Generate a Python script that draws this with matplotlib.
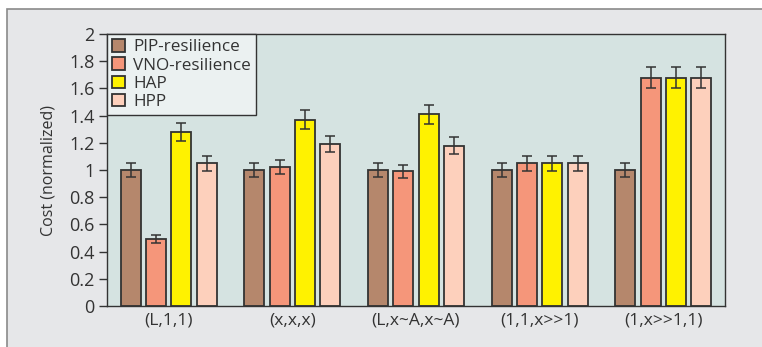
import numpy as np
import matplotlib.pyplot as plt
from matplotlib.patches import Rectangle

groups = ['(L,1,1)', '(x,x,x)', '(L,x~A,x~A)', '(1,1,x>>1)', '(1,x>>1,1)']
series = ['PIP-resilience', 'VNO-resilience', 'HAP', 'HPP']
pip = [1.0, 1.0, 1.0, 1.0, 1.0]
vno = [0.49, 1.02, 0.99, 1.05, 1.68]
hap = [1.28, 1.37, 1.41, 1.05, 1.68]
hpp = [1.05, 1.19, 1.18, 1.05, 1.68]
pip_err = [0.05, 0.05, 0.05, 0.05, 0.05]
vno_err = [0.03, 0.05, 0.05, 0.055, 0.08]
hap_err = [0.065, 0.07, 0.07, 0.055, 0.08]
hpp_err = [0.055, 0.06, 0.06, 0.055, 0.08]

colors = ['#b5876c', '#f5967a', '#fff200', '#fdd0bc']
plt.rcParams['font.family'] = ['Open Sans', 'DejaVu Sans']

fig = plt.figure(figsize=(7.62, 3.47), dpi=100)
# outer panel
fig.patches.append(Rectangle((7/762, -0.05), 1.1, (347-9)/347 + 0.05,
                             transform=fig.transFigure, facecolor='#e6e7e9',
                             edgecolor='#8a8a8a', linewidth=1.2, zorder=-10))

ax = fig.add_axes([107/762, 41/347, 618/762, 272/347])
ax.set_facecolor('#d5e3e1')

x = np.arange(len(groups))
step = 0.205
width = 0.162
vals = [pip, vno, hap, hpp]
errs = [pip_err, vno_err, hap_err, hpp_err]
for i, (v, e) in enumerate(zip(vals, errs)):
    ax.bar(x + (i - 1.5) * step, v, width, yerr=e, color=colors[i],
           edgecolor='#333333', linewidth=1.3, label=series[i],
           error_kw=dict(ecolor='#333333', elinewidth=1.1, capsize=3.5, capthick=1.1))

ax.set_xlim(-0.5, 4.5)
ax.set_ylim(0, 2)
ax.set_yticks(np.arange(0, 2.01, 0.2))
ax.set_yticklabels(['0', '0.2', '0.4', '0.6', '0.8', '1', '1.2', '1.4', '1.6', '1.8', '2'])
ax.set_xticks(x)
ax.set_xticklabels(groups)
ax.tick_params(axis='x', length=0, pad=5, labelsize=12.5, colors='#333333')
ax.tick_params(axis='y', length=6, width=1, direction='out', labelsize=13,
               colors='#333333', pad=3)
for s in ax.spines.values():
    s.set_color('#333333')
    s.set_linewidth(1)
ax.set_ylabel('Cost (normalized)', fontsize=11.5, color='#333333', labelpad=9)

leg = ax.legend(loc='upper left', bbox_to_anchor=(0, 1), borderaxespad=0,
                fontsize=12.3, frameon=True, fancybox=False, handlelength=0.75,
                handleheight=0.75, handletextpad=0.5, labelspacing=0.12,
                borderpad=0.3)
leg.get_frame().set_edgecolor('#333333')
leg.get_frame().set_facecolor('#ebf1f1')
leg.get_frame().set_alpha(1)
leg.get_frame().set_linewidth(1)
for t in leg.get_texts():
    t.set_color('#333333')

fig.savefig('out.png', dpi=100)
